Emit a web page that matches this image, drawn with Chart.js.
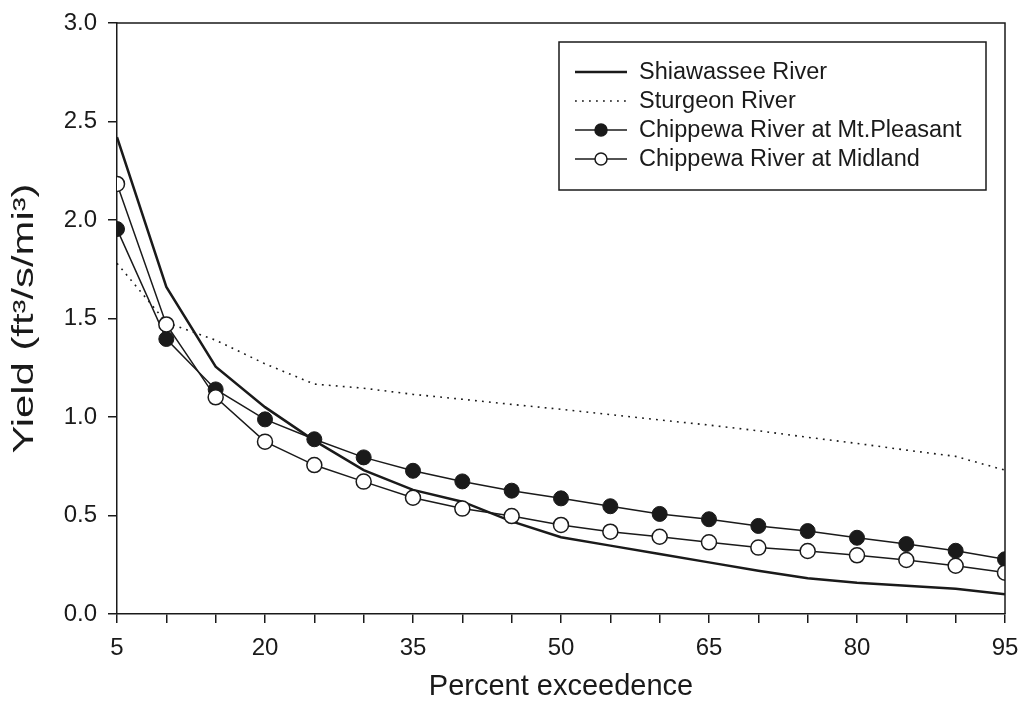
<!DOCTYPE html>
<html><head><meta charset="utf-8">
<script src="https://cdn.jsdelivr.net/npm/chart.js@4/dist/chart.umd.min.js"></script>
<style>html,body{margin:0;padding:0;background:#fff;}#wrap{width:1023px;height:712px;}</style>
</head><body><div id="wrap"><canvas id="c" width="1023" height="712"></canvas></div>
<script>
const percentExceedence = [5,10,15,20,25,30,35,40,45,50,55,60,65,70,75,80,85,90,95];
const shiawassee = [2.42,1.66,1.255,1.05,0.88,0.73,0.63,0.57,0.47,0.39,0.347,0.305,0.262,0.22,0.181,0.159,0.144,0.128,0.10];
const sturgeon = [1.78,1.48,1.39,1.27,1.167,1.146,1.115,1.09,1.064,1.039,1.012,0.985,0.959,0.93,0.897,0.866,0.832,0.80,0.73];
const chippewaMtPleasant = [1.954,1.396,1.14,0.988,0.887,0.795,0.727,0.673,0.626,0.587,0.547,0.508,0.481,0.447,0.421,0.387,0.355,0.321,0.278];
const chippewaMidland = [2.183,1.47,1.10,0.875,0.756,0.672,0.59,0.535,0.497,0.452,0.418,0.392,0.364,0.337,0.320,0.298,0.274,0.245,0.21];
const seriesNames = ['Shiawassee River','Sturgeon River','Chippewa River at Mt.Pleasant','Chippewa River at Midland'];
const xLabelTicks = [5,20,35,50,65,80,95];
const yTickValues = [0,0.5,1.0,1.5,2.0,2.5,3.0];
const xTitle = 'Percent exceedence';
const yTitle = 'Yield (ft\u00B3/s/mi\u00B3)';

const INK = '#1a1a1a';
const FONT = "'Liberation Sans', Arial, Helvetica, sans-serif";

function pts(arr){ return arr.map((v,i)=>({x:percentExceedence[i], y:v})); }

const frame = {
  id:'frame',
  afterDatasetsDraw(chart){
    const {ctx, chartArea:a} = chart;
    ctx.save();
    ctx.strokeStyle = INK; ctx.lineWidth = 1.5;
    ctx.beginPath();
    ctx.moveTo(a.left, a.top); ctx.lineTo(a.right, a.top); ctx.lineTo(a.right, a.bottom);
    ctx.stroke();
    ctx.restore();
  }
};

// y-axis title, drawn as elongated text like the original figure
const yTitlePlugin = {
  id:'yTitlePlugin',
  afterDraw(chart){
    const {ctx, chartArea:a} = chart;
    ctx.save();
    ctx.font = '29px ' + FONT;
    const w = ctx.measureText(yTitle).width;
    const stretch = 270 / w;
    ctx.translate(25, (a.top + a.bottom) / 2);
    ctx.rotate(-Math.PI/2);
    ctx.scale(stretch, 1);
    ctx.fillStyle = INK;
    ctx.textAlign = 'center';
    ctx.textBaseline = 'middle';
    ctx.fillText(yTitle, 0, 0);
    ctx.restore();
  }
};

const boxLegend = {
  id:'boxLegend',
  afterDraw(chart){
    const {ctx, chartArea:a} = chart;
    const bx = a.right - 446, by = a.top + 19, bw = 427, bh = 148;
    ctx.save();
    ctx.fillStyle = '#fff';
    ctx.fillRect(bx, by, bw, bh);
    ctx.strokeStyle = INK; ctx.lineWidth = 1.5;
    ctx.strokeRect(bx, by, bw, bh);
    const rowY0 = by + 30, rowGap = 29;
    chart.data.datasets.forEach((ds, i) => {
      const y = rowY0 + i*rowGap;
      const x0 = bx + 16, x1 = bx + 68;
      ctx.save();
      ctx.strokeStyle = ds.borderColor;
      ctx.lineWidth = ds.borderWidth;
      ctx.setLineDash(ds.borderDash || []);
      ctx.beginPath(); ctx.moveTo(x0, y); ctx.lineTo(x1, y); ctx.stroke();
      ctx.setLineDash([]);
      if (ds.pointRadius > 0) {
        ctx.beginPath();
        ctx.arc((x0+x1)/2, y, 6, 0, Math.PI*2);
        ctx.fillStyle = ds.pointBackgroundColor; ctx.fill();
        ctx.lineWidth = 1.5; ctx.strokeStyle = ds.pointBorderColor; ctx.stroke();
      }
      ctx.restore();
      ctx.fillStyle = INK;
      ctx.font = '23.5px ' + FONT;
      ctx.textBaseline = 'middle';
      ctx.textAlign = 'left';
      ctx.fillText(ds.label, bx + 80, y + 1);
    });
    ctx.restore();
  }
};

new Chart(document.getElementById('c'), {
  type:'line',
  data:{
    datasets:[
      {label:seriesNames[0], data:pts(shiawassee), borderColor:INK, borderWidth:2.5, pointRadius:0, fill:false, tension:0, order:4},
      {label:seriesNames[1], data:pts(sturgeon), borderColor:INK, borderWidth:1.6, borderDash:[1.8,5.2], pointRadius:0, fill:false, tension:0, order:3},
      {label:seriesNames[2], data:pts(chippewaMtPleasant), borderColor:INK, borderWidth:1.5, pointRadius:7.5, pointBackgroundColor:INK, pointBorderColor:INK, pointBorderWidth:1, fill:false, tension:0, order:2},
      {label:seriesNames[3], data:pts(chippewaMidland), borderColor:INK, borderWidth:1.5, pointRadius:7.5, pointBackgroundColor:'#fff', pointBorderColor:INK, pointBorderWidth:1.5, fill:false, tension:0, order:1}
    ]
  },
  options:{
    responsive:false, animation:false, devicePixelRatio:1,
    layout:{padding:{top:23, right:18, left:0, bottom:0}},
    plugins:{legend:{display:false}, tooltip:{enabled:false}},
    scales:{
      x:{
        type:'linear', min:5, max:95,
        afterFit(s){ s.height = 98; s.paddingLeft = 0; s.paddingRight = 0; },
        ticks:{stepSize:5, autoSkip:false, maxRotation:0, padding:11, color:INK, font:{family:FONT, size:24},
          callback:(v)=> xLabelTicks.includes(v) ? String(v) : ''},
        grid:{display:true, drawOnChartArea:false, drawTicks:true, tickLength:9, color:INK, lineWidth:1.5},
        border:{display:true, color:INK, width:1.5},
        title:{display:true, text:xTitle, color:INK, font:{family:FONT, size:29}, padding:{top:0, bottom:8}}
      },
      y:{
        min:0, max:3,
        afterFit(s){ s.width = 117; s.paddingTop = 0; s.paddingBottom = 0; },
        afterBuildTicks(s){ s.ticks = yTickValues.map(v=>({value:v})); },
        ticks:{color:INK, padding:11, font:{family:FONT, size:24}, callback:(v)=>Number(v).toFixed(1)},
        grid:{display:true, drawOnChartArea:false, drawTicks:true, tickLength:9, color:INK, lineWidth:1.5},
        border:{display:true, color:INK, width:1.5},
        title:{display:false, text:yTitle}
      }
    }
  },
  plugins:[frame, yTitlePlugin, boxLegend]
});
</script></body></html>
